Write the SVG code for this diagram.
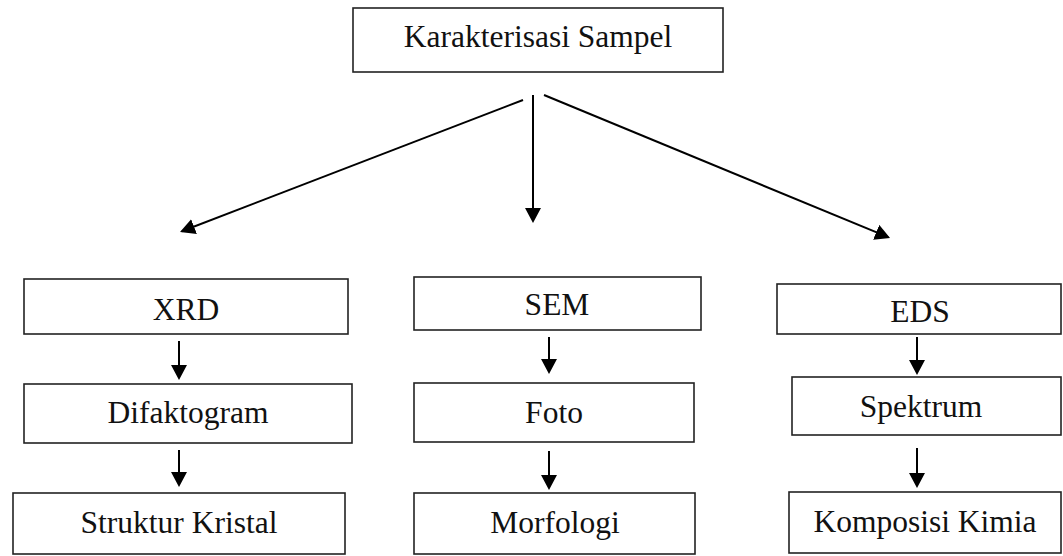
<svg xmlns="http://www.w3.org/2000/svg" width="1063" height="556" viewBox="0 0 1063 556">
  <style>
    .box { fill: #ffffff; stroke: #222222; stroke-width: 1.6; }
    .label { font-family: "Liberation Serif", "Times New Roman", serif; font-size: 31.5px; fill: #111111; text-anchor: middle; }
    .conn { stroke: #000000; stroke-width: 2; fill: none; marker-end: url(#arrow); }
  </style>
  <defs>
    <marker id="arrow" markerUnits="userSpaceOnUse" markerWidth="16" markerHeight="16" refX="13" refY="8" orient="auto">
      <path d="M0,0 L15,8 L0,16 z" fill="#000000"/>
    </marker>
  </defs>
  <rect width="1063" height="556" fill="#ffffff"/>

  <!-- root -->
  <g id="node-karakterisasi">
    <rect class="box" x="353" y="8" width="370" height="64"/>
    <text class="label" x="538" y="47">Karakterisasi Sampel</text>
  </g>

  <!-- XRD branch -->
  <g id="node-xrd">
    <rect class="box" x="24" y="279" width="324" height="55"/>
    <text class="label" x="186" y="320">XRD</text>
  </g>
  <g id="node-difaktogram">
    <rect class="box" x="24" y="384" width="328" height="59"/>
    <text class="label" x="188" y="423">Difaktogram</text>
  </g>
  <g id="node-struktur">
    <rect class="box" x="13" y="493" width="332" height="61"/>
    <text class="label" x="179" y="533">Struktur Kristal</text>
  </g>

  <!-- SEM branch -->
  <g id="node-sem">
    <rect class="box" x="414" y="277" width="287" height="53"/>
    <text class="label" x="557" y="315">SEM</text>
  </g>
  <g id="node-foto">
    <rect class="box" x="414" y="383" width="280" height="59"/>
    <text class="label" x="554" y="423">Foto</text>
  </g>
  <g id="node-morfologi">
    <rect class="box" x="414" y="493" width="281" height="61"/>
    <text class="label" x="555" y="533">Morfologi</text>
  </g>

  <!-- EDS branch -->
  <g id="node-eds">
    <rect class="box" x="777" y="284" width="284" height="50"/>
    <text class="label" x="920" y="322">EDS</text>
  </g>
  <g id="node-spektrum">
    <rect class="box" x="792" y="377" width="269" height="58"/>
    <text class="label" x="921" y="417">Spektrum</text>
  </g>
  <g id="node-komposisi">
    <rect class="box" x="789" y="492" width="272" height="61"/>
    <text class="label" x="925" y="532">Komposisi Kimia</text>
  </g>

  <!-- connectors -->
  <g id="connectors">
    <line class="conn" x1="523" y1="100" x2="181.9" y2="231.3"/>
    <line class="conn" x1="533" y1="95" x2="533" y2="221"/>
    <line class="conn" x1="544" y1="95" x2="888.2" y2="237.2"/>

    <line class="conn" x1="179" y1="341" x2="179" y2="378"/>
    <line class="conn" x1="179" y1="450" x2="179" y2="485"/>

    <line class="conn" x1="549" y1="337" x2="549" y2="372"/>
    <line class="conn" x1="549" y1="451" x2="549" y2="488"/>

    <line class="conn" x1="917" y1="337" x2="917" y2="373"/>
    <line class="conn" x1="917" y1="448" x2="917" y2="486"/>
  </g>
</svg>
